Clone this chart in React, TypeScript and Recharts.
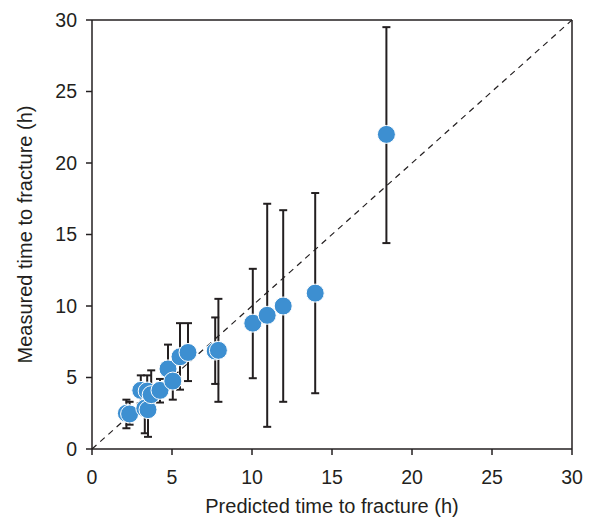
import { ScatterChart, Scatter, XAxis, YAxis, ErrorBar, ReferenceLine } from 'recharts';

// predicted vs measured time to fracture (h), with measured range
const predicted = [2.15, 2.35, 3.3, 3.5, 3.05, 3.45, 3.7, 4.25, 4.75, 5.05, 5.5, 6.0, 7.7, 7.9, 10.05, 10.95, 11.95, 13.95, 18.4];
const measured = [2.5, 2.45, 2.85, 2.75, 4.1, 4.05, 3.8, 4.1, 5.6, 4.75, 6.45, 6.75, 6.85, 6.9, 8.8, 9.35, 10.0, 10.9, 22.0];
const measuredLow = [1.45, 1.7, 1.1, 0.85, 3.2, 3.0, 2.9, 3.25, 4.2, 3.45, 4.15, 4.75, 4.55, 3.3, 4.95, 1.55, 3.3, 3.9, 14.4];
const measuredHigh = [3.45, 3.3, 4.3, 4.0, 5.15, 5.15, 5.5, 4.9, 7.3, 6.0, 8.8, 8.8, 9.2, 10.5, 12.6, 17.15, 16.7, 17.9, 29.5];
const ticks = [0, 5, 10, 15, 20, 25, 30];

const rows = predicted.map((x, i) => ({
  x,
  y: measured[i],
  err: [measured[i] - measuredLow[i], measuredHigh[i] - measured[i]],
}));

const font = 'Liberation Sans, Arial, sans-serif';
const ink = '#231f20';

export default function App() {
  return (
    <div style={{ position: 'absolute', left: 0, top: 0 }}>
      <ScatterChart width={590} height={517} margin={{ top: 20, right: 18, bottom: 0, left: 0 }}>
        <XAxis
          type="number"
          dataKey="x"
          domain={[0, 30]}
          ticks={ticks}
          height={68}
          tickSize={6}
          tickMargin={15}
          stroke={ink}
          strokeWidth={1.5}
          tick={{ fill: ink, fontSize: 19.5, fontFamily: font }}
          label={{ value: 'Predicted time to fracture (h)', position: 'insideBottom', offset: 4, fill: ink, fontSize: 20, fontFamily: font }}
        />
        <YAxis
          type="number"
          dataKey="y"
          domain={[0, 30]}
          ticks={ticks}
          width={92}
          tickSize={6}
          tickMargin={9}
          stroke={ink}
          strokeWidth={1.5}
          tick={{ fill: ink, fontSize: 19.5, fontFamily: font }}
          label={{ value: 'Measured time to fracture (h)', angle: -90, position: 'insideLeft', offset: 25, style: { textAnchor: 'middle' }, fill: ink, fontSize: 20, fontFamily: font }}
        />
        <ReferenceLine y={30} stroke={ink} strokeWidth={1.5} />
        <ReferenceLine x={30} stroke={ink} strokeWidth={1.5} />
        <ReferenceLine segment={[{ x: 0, y: 0 }, { x: 30, y: 30 }]} stroke={ink} strokeWidth={1.2} strokeDasharray="6 5" />
        <Scatter data={rows} fill="#3d8fd1" stroke="#ffffff" strokeWidth={1} isAnimationActive={false}
          shape={(p: any) => <circle cx={p.cx} cy={p.cy} r={9} fill="#3d8fd1" stroke="#fff" strokeWidth={1} />}>
          <ErrorBar dataKey="err" direction="y" width={4} stroke={ink} strokeWidth={2} isAnimationActive={false} />
        </Scatter>
      </ScatterChart>
    </div>
  );
}
